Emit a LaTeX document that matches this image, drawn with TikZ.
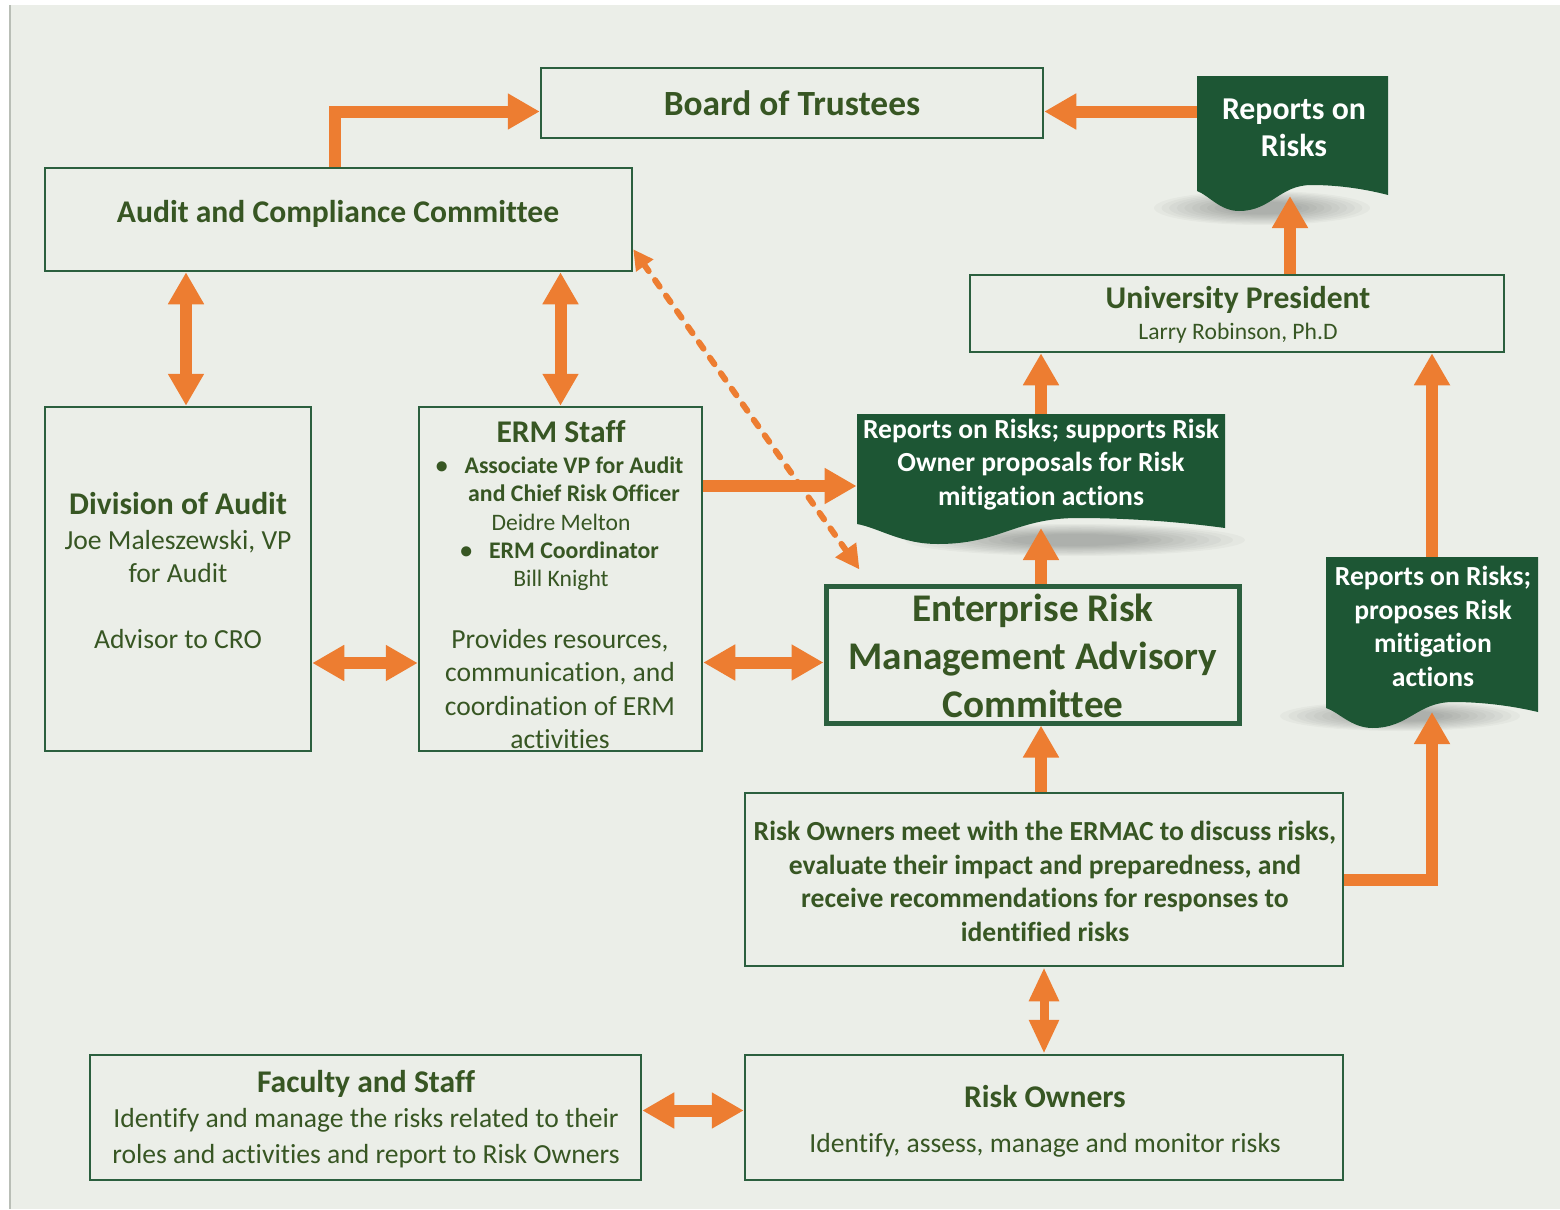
\documentclass[tikz,border=0pt]{standalone}
\usepackage{fontspec}
\setmainfont{Carlito}[Ligatures={NoCommon}]
\usetikzlibrary{arrows.meta,fit,calc}
\definecolor{bgc}{HTML}{EBEEE8}
\definecolor{txtc}{HTML}{375623}
\definecolor{boxc}{HTML}{2B5F3E}
\definecolor{docc}{HTML}{1D5634}
\definecolor{orng}{HTML}{ED7D31}
\definecolor{edgec}{HTML}{B9BEB6}

% #1 x1, #2 x2, #3 top, #4 right-corner y (pixel units, y downwards)
\newcommand{\docshape}[4]{%
  \pgfmathsetmacro{\dW}{#2-#1}%
  \pgfmathsetmacro{\dTx}{#1+0.22*\dW}%
  \pgfmathsetmacro{\dCx}{#1+0.6*\dW}%
  \pgfmathsetmacro{\dTy}{#4+16}%
  \pgfmathsetmacro{\dCy}{#4-10}%
  \pgfmathsetmacro{\dLy}{#4-4}%
  \fill[docc] (#1,#3) -- (#2,#3) -- (#2,#4)
    .. controls (#2-0.14*\dW,#4-7) and (\dCx+0.12*\dW,\dCy) .. (\dCx,\dCy)
    .. controls (\dCx-0.17*\dW,\dCy) and (\dTx+0.17*\dW,\dTy) .. (\dTx,\dTy)
    .. controls (\dTx-0.1*\dW,\dTy) and (#1+0.06*\dW,\dLy+4) .. (#1,\dLy) -- cycle;
}
% soft shadow: #1 cx, #2 cy, #3 rx, #4 ry
\newcommand{\softshadow}[4]{%
  \foreach \s in {1,0.93,...,0.3}{%
    \fill[black,opacity=0.028] (#1,#2) ellipse [x radius=\s*#3*0.5pt, y radius=\s*#4*0.5pt];}%
}

\begin{document}
\begin{tikzpicture}[x=0.5pt,y=-0.5pt,
  box/.style={draw=boxc,line width=1.25pt,inner sep=0pt},
  tx/.style={text=txtc,align=center,inner sep=0pt},
  ttl/.style={tx,font=\bfseries\fontsize{15.8pt}{19pt}\selectfont},
  body/.style={tx,font=\fontsize{13.8pt}{16.5pt}\selectfont},
  small/.style={tx,font=\fontsize{11.8pt}{14pt}\selectfont},
  bsmall/.style={tx,font=\bfseries\fontsize{11.9pt}{14pt}\selectfont},
  doctx/.style={text=white,align=center,inner sep=0pt,font=\bfseries\fontsize{13.8pt}{16.7pt}\selectfont},
  arr/.style={draw=orng,line width=6pt,-{Triangle[width=17pt,length=16pt]}},
  darr/.style={draw=orng,line width=6pt,{Triangle[width=17pt,length=16pt]}-{Triangle[width=17pt,length=16pt]}},
]
% background
\fill[white] (0,0) rectangle (1560,1209);
\fill[bgc] (10,5) rectangle (1560,1209);
\draw[edgec,line width=0.6pt] (10,5) -- (10,1209);
\useasboundingbox (0,0) rectangle (1560,1209);

% documents (wavy bottom shapes)
\softshadow{1262}{208}{108}{17}
\softshadow{1075}{540}{170}{16}
\softshadow{1400}{716}{120}{15}
\docshape{1197}{1388}{76}{195}
\docshape{857}{1225}{414}{528}
\docshape{1326}{1538}{557}{712}
\node[inner sep=0pt,fit={(1197,76)(1388,195)}] (docA) {};
\node[inner sep=0pt,fit={(857,414)(1225,528)}] (docB) {};
\node[inner sep=0pt,fit={(1326,557)(1538,712)}] (docC) {};

% boxes
\node[box,fit={(541,68)(1043,138)}] (bot) {};
\node[box,fit={(45,168)(632,271)}] (acc) {};
\node[box,fit={(970,275)(1504,352)}] (up) {};
\node[box,fit={(45,407)(311,751)}] (div) {};
\node[box,fit={(419,407)(702,751)}] (erm) {};
\node[box,line width=2.5pt,fit={(826,586)(1239,723)}] (ermac) {};
\node[box,fit={(745,793)(1343,966)}] (meet) {};
\node[box,fit={(90,1055)(641,1180)}] (fac) {};
\node[box,fit={(745,1055)(1343,1180)}] (ro) {};

% texts
\node[tx,font=\bfseries\fontsize{17.7pt}{21pt}\selectfont] (bot-t) at (792,103) {Board of Trustees};
\node[ttl] (acc-t) at (338,214) {Audit and Compliance Committee};
\node[doctx,font=\bfseries\fontsize{15.9pt}{18.5pt}\selectfont] (docA-t) at (1294,128) {Reports on\\Risks};
\node[ttl] (up-t) at (1238,300) {University President};
\node[small] (up-s) at (1238,333) {Larry Robinson, Ph.D};
\node[ttl] (div-t) at (178,504) {Division of Audit};
\node[body] (div-s) at (178,590) {Joe Maleszewski, VP\\for Audit\\[16.5pt]Advisor to CRO};
\node[ttl] (erm-t) at (561,432) {ERM Staff};
\node[bsmall] (erm-b1a) at (574,465) {Associate VP for Audit};
\node[bsmall] (erm-b1b) at (574,493) {and Chief Risk Officer};
\node[bsmall,anchor=base east] (erm-d1) at ([xshift=-8pt]erm-b1a.base west) {•};
\node[small] (erm-n1) at (561,522) {Deidre Melton};
\node[bsmall] (erm-b2) at (574,550) {ERM Coordinator};
\node[bsmall,anchor=base east] (erm-d2) at ([xshift=-8pt]erm-b2.base west) {•};
\node[small] (erm-n2) at (561,580) {Bill Knight};
\node[body,font=\fontsize{13.8pt}{16.8pt}\selectfont] (erm-s) at (560,689) {Provides resources,\\communication, and\\coordination of ERM\\activities};
\node[doctx] (docB-t) at (1041,464.5) {Reports on Risks; supports Risk\\Owner proposals for Risk\\mitigation actions};
\node[doctx] (docC-t) at (1433,626.5) {Reports on Risks;\\proposes Risk\\mitigation\\actions};
\node[tx,font=\bfseries\fontsize{19.6pt}{24pt}\selectfont] (ermac-t) at (1033,655.5) {Enterprise Risk\\Management Advisory\\Committee};
\node[tx,font=\bfseries\fontsize{13.8pt}{16.7pt}\selectfont] (meet-t) at (1045,881.5) {Risk Owners meet with the ERMAC to discuss risks,\\evaluate their impact and preparedness, and\\receive recommendations for responses to\\identified risks};
\node[ttl] (fac-t) at (366,1084) {Faculty and Staff};
\node[body,font=\fontsize{13.8pt}{18pt}\selectfont] (fac-s) at (366,1138) {Identify and manage the risks related to their\\roles and activities and report to Risk Owners};
\node[ttl] (ro-t) at (1045,1097) {Risk Owners};
\node[body] (ro-s) at (1045,1145) {Identify, assess, manage and monitor risks};

% connectors
\coordinate (botR) at ([yshift=-4.25pt]bot.east);
\draw[arr] (docA.west |- botR) -- (botR);
\coordinate (botL) at ([yshift=-4.25pt]bot.west);
\draw[arr] ([xshift=-2pt]acc.north) |- (botL);
\coordinate (docAb) at (1290,196);
\draw[arr] (up.north -| docAb) -- (docAb);
\coordinate (divN) at ([xshift=4pt]div.north);
\draw[darr] (acc.south -| divN) -- (divN);
\draw[darr] (acc.south -| erm.north) -- (erm.north);
\coordinate (divE) at ([yshift=-42pt]div.east);
\draw[darr] (divE) -- (erm.west |- divE);
\coordinate (docBw) at ([yshift=-7.5pt]docB.west);
\draw[arr] (erm.east |- docBw) -- (docBw);
\coordinate (ermacW) at ([yshift=-4pt]ermac.west);
\draw[darr] (erm.east |- ermacW) -- (ermacW);
\coordinate (docBb) at (1041,528);
\draw[arr] (ermac.north -| docBb) -- (docBb);
\draw[arr] (docB.north) -- (up.south -| docB.north);
\draw[arr] (docC.north) -- (up.south -| docC.north);
\draw[arr] (meet.north -| docBb) -- (ermac.south -| docBb);
\coordinate (docCb) at (1432,712);
\draw[arr] (meet.east) -| (docCb);
\draw[draw=orng,line width=4.5pt,{Triangle[width=14pt,length=17pt]}-{Triangle[width=14pt,length=17pt]}] (meet.south) -- (ro.north);
\coordinate (facE) at ([yshift=3.5pt]fac.east);
\draw[darr] (facE) -- (ro.west |- facE);
\draw[draw=orng,line width=3pt,dash pattern=on 4pt off 5.5pt,line cap=round,{Triangle[width=10pt,length=10pt]}-{Triangle[width=12pt,length=12pt]}] ([yshift=11.5pt]acc.south east) -- ([xshift=18pt,yshift=7pt]ermac.north west);
\end{tikzpicture}
\end{document}
